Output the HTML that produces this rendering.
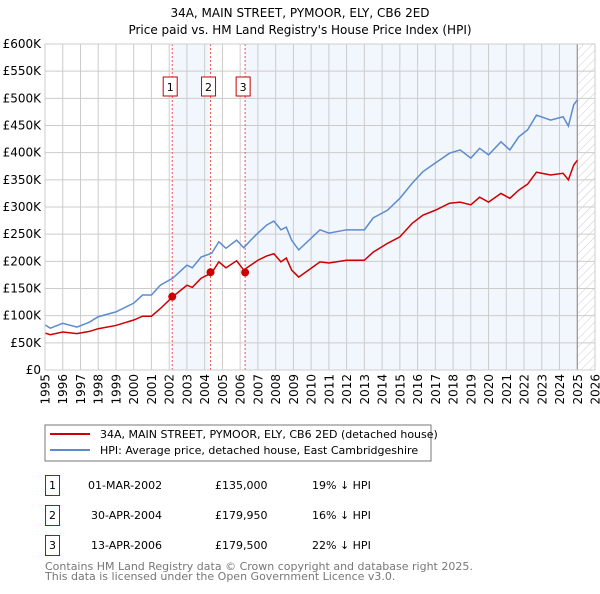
<!DOCTYPE html>
<html><head><meta charset="utf-8"><style>
body{margin:0;background:#fff;font-family:"DejaVu Sans","Liberation Sans",sans-serif}
svg text{font-family:"DejaVu Sans","Liberation Sans",sans-serif}
</style></head><body>
<svg id="c" width="600" height="590" viewBox="0 0 600 590">
<defs><pattern id="hatch" width="6" height="6" patternUnits="userSpaceOnUse" patternTransform="rotate(45)"><line x1="0" y1="0" x2="0" y2="6" stroke="#ccc" stroke-width="1"/></pattern></defs>
<text x="300" y="17" text-anchor="middle" font-size="12">34A, MAIN STREET, PYMOOR, ELY, CB6 2ED</text>
<text x="300" y="34" text-anchor="middle" font-size="12">Price paid vs. HM Land Registry's House Price Index (HPI)</text>
<g id="plot"></g>
<rect x="45" y="425" width="386" height="36" fill="#fff" stroke="#777"/>
<line x1="50" y1="434" x2="90" y2="434" stroke="#cc0000" stroke-width="2"/>
<text x="100" y="438" font-size="11">34A, MAIN STREET, PYMOOR, ELY, CB6 2ED (detached house)</text>
<line x1="50" y1="450" x2="90" y2="450" stroke="#5b8bd0" stroke-width="2"/>
<text x="100" y="454" font-size="11">HPI: Average price, detached house, East Cambridgeshire</text>
<g font-size="11">
<rect x="45.5" y="475.5" width="14" height="20" fill="none" stroke="#cc0000"/><text x="52.5" y="489" text-anchor="middle">1</text>
<text x="88" y="489">01-MAR-2002</text><text x="215" y="489">£135,000</text><text x="312" y="489">19% ↓ HPI</text>
<rect x="45.5" y="505.5" width="14" height="20" fill="none" stroke="#cc0000"/><text x="52.5" y="519" text-anchor="middle">2</text>
<text x="91" y="519">30-APR-2004</text><text x="215" y="519">£179,950</text><text x="312" y="519">16% ↓ HPI</text>
<rect x="45.5" y="535.5" width="14" height="20" fill="none" stroke="#cc0000"/><text x="52.5" y="549" text-anchor="middle">3</text>
<text x="91" y="549">13-APR-2006</text><text x="215" y="549">£179,500</text><text x="312" y="549">22% ↓ HPI</text>
</g>
<text x="45" y="570" font-size="11" fill="#777">Contains HM Land Registry data © Crown copyright and database right 2025.</text>
<text x="45" y="580" font-size="11" fill="#777">This data is licensed under the Open Government Licence v3.0.</text>
</svg>
<script>
const hpiDates=[1995,1995.3,1996,1996.8,1997.5,1998,1999,2000,2000.5,2001,2001.5,2002.2,2003,2003.3,2003.8,2004.4,2004.8,2005.2,2005.8,2006.2,2006.6,2007,2007.5,2007.9,2008.3,2008.6,2008.9,2009.3,2010.5,2011,2012,2013,2013.5,2014.3,2015,2015.7,2016.3,2017,2017.8,2018.4,2019,2019.5,2020,2020.7,2021.2,2021.7,2022.2,2022.7,2023.5,2024.2,2024.5,2024.8,2025];
const hpiValues=[83,77,86,79,88,98,107,123,138,138,156,169,193,188,208,215,236,224,239,225,239,252,267,274,258,263,239,221,258,252,258,258,280,294,316,344,365,381,399,405,390,408,396,420,405,429,442,469,460,466,449,488,497];
const priceValues=[68,65,70,67,71,76,82,92,99,99,113,135,156,152,169,179,199,188,201,184,193,202,210,214,199,206,184,171,199,197,202,202,217,233,245,270,285,294,307,309,304,318,309,325,316,331,342,364,359,362,350,377,386];
const saleDates=[2002.17,2004.33,2006.28];
const salePrices=[135,179.95,179.5];
const saleLabels=["1","2","3"];
const yTicks=[0,50,100,150,200,250,300,350,400,450,500,550,600];
const yTickLabels=["£0","£50K","£100K","£150K","£200K","£250K","£300K","£350K","£400K","£450K","£500K","£550K","£600K"];
const xYears=[1995,1996,1997,1998,1999,2000,2001,2002,2003,2004,2005,2006,2007,2008,2009,2010,2011,2012,2013,2014,2015,2016,2017,2018,2019,2020,2021,2022,2023,2024,2025,2026];
const X0=45,X1=595,Y0=370,Y1=44;
function sx(y){return X0+(y-1995)*(X1-X0)/31;}
function sy(v){return Y0-v*(Y0-Y1)/600;}
const NS="http://www.w3.org/2000/svg";
const g=document.getElementById('plot');
function mk(t,a,p){const e=document.createElementNS(NS,t);for(const k in a)e.setAttribute(k,a[k]);(p||g).appendChild(e);return e;}
const bg=mk('rect',{x:X0,y:Y1,width:X1-X0,height:Y0-Y1,fill:'#fff'});


const s1=mk('rect',{x:sx(saleDates[0]),y:Y1,width:sx(saleDates[1])-sx(saleDates[0]),height:Y0-Y1,fill:'#f2f6fd'});


const s2=mk('rect',{x:sx(saleDates[2]),y:Y1,width:sx(2025)-sx(saleDates[2]),height:Y0-Y1,fill:'#f2f6fd'});


const ht=mk('rect',{x:sx(2025),y:Y1,width:X1-sx(2025),height:Y0-Y1,fill:'url(#hatch)'});


yTicks.forEach((v,i)=>{
 const l=mk('line',{x1:X0,x2:X1,y1:sy(v),y2:sy(v),stroke:'#ccc','stroke-width':1});
 
 
 const t=mk('text',{x:X0-4,y:sy(v)+4,'text-anchor':'end','font-size':12});
 t.textContent=yTickLabels[i];
 
 
});
xYears.forEach(y=>{
 const l=mk('line',{x1:sx(y),x2:sx(y),y1:Y1,y2:Y0,stroke:'#ccc','stroke-width':1});
 
 
 const t=mk('text',{x:0,y:0,'text-anchor':'end','font-size':12,transform:'translate('+(sx(y)+4.5)+',374) rotate(-90)'});
 t.textContent=y;
 
 
});
const el=mk('line',{x1:sx(2025),x2:sx(2025),y1:Y1,y2:Y0,stroke:'#888','stroke-width':1});


saleDates.forEach((d,i)=>{
 const l=mk('line',{x1:sx(d),x2:sx(d),y1:Y1,y2:Y0,stroke:'#e55','stroke-width':1,'stroke-dasharray':'2,2'});
 
 
 const b=mk('rect',{x:sx(d)-9,y:77,width:14,height:19,fill:'#fff',stroke:'#cc0000'});
 
 
 const t=mk('text',{x:sx(d)-2,y:91,'text-anchor':'middle','font-size':11});
 t.textContent=saleLabels[i];
 
 
});
const hp=mk('polyline',{points:hpiDates.map((d,i)=>sx(d)+','+sy(hpiValues[i])).join(' '),fill:'none',stroke:'#5b8bd0','stroke-width':1.5});


const pp=mk('polyline',{points:hpiDates.map((d,i)=>sx(d)+','+sy(priceValues[i])).join(' '),fill:'none',stroke:'#cc0000','stroke-width':1.5});


saleDates.forEach((d,i)=>{
 const c=mk('circle',{cx:sx(d),cy:sy(salePrices[i]),r:4,fill:'#cc0000'});
 
 
});
const fr=mk('rect',{x:X0,y:Y1,width:X1-X0,height:Y0-Y1,fill:'none',stroke:'#ccc'});


</script>
</body></html>
